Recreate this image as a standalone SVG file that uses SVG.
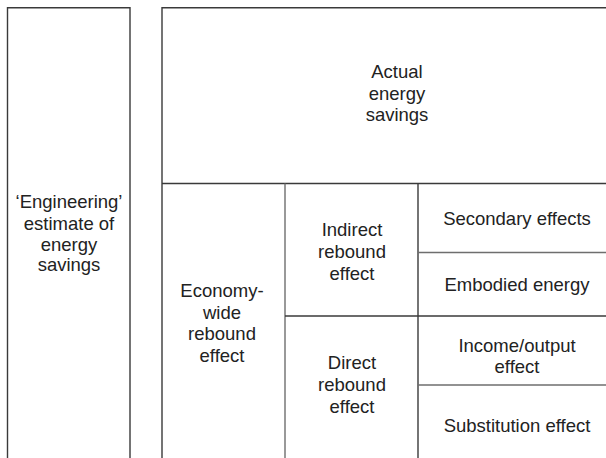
<svg xmlns="http://www.w3.org/2000/svg" width="606" height="458" viewBox="0 0 606 458">
<style>
.ln{fill:none;stroke:#3a3a3a;stroke-width:1.4}
.lg{fill:none;stroke:#6e6e6e;stroke-width:1.4}
text{font-family:"Liberation Sans",Arial,Helvetica,sans-serif;font-size:18.5px;fill:#222;text-anchor:middle}
</style>
<rect width="606" height="458" fill="#fff"/>
<g id="connectors">
<path class="ln" d="M7.5,458 V7.7 H130 V458"/>
<path class="ln" d="M162,458 V7.7 H606"/>
<path class="ln" d="M162,183.5 H606"/>
<path class="lg" d="M285,183.5 V458"/>
<path class="ln" d="M418,183.5 V458"/>
<path class="ln" d="M285,316 H606"/>
<path class="lg" d="M418,252.5 H606"/>
<path class="lg" d="M418,385 H606"/>
</g>
<g id="engineering">
<text x="69" y="208">‘Engineering’</text>
<text x="69" y="229.5">estimate of</text>
<text x="69" y="250.5">energy</text>
<text x="69" y="271">savings</text>
</g>
<g id="actual">
<text x="397" y="78">Actual</text>
<text x="397" y="99.5">energy</text>
<text x="397" y="121">savings</text>
</g>
<g id="economy">
<text x="222" y="297">Economy-</text>
<text x="222" y="318.5">wide</text>
<text x="222" y="340">rebound</text>
<text x="222" y="361.5">effect</text>
</g>
<g id="indirect">
<text x="352" y="236">Indirect</text>
<text x="352" y="258">rebound</text>
<text x="352" y="280">effect</text>
</g>
<g id="direct">
<text x="352" y="369">Direct</text>
<text x="352" y="391">rebound</text>
<text x="352" y="413">effect</text>
</g>
<g id="secondary">
<text x="517" y="225">Secondary effects</text>
</g>
<g id="embodied">
<text x="517" y="291">Embodied energy</text>
</g>
<g id="income">
<text x="517" y="351.5">Income/output</text>
<text x="517" y="373">effect</text>
</g>
<g id="substitution">
<text x="517" y="432">Substitution effect</text>
</g>
</svg>
